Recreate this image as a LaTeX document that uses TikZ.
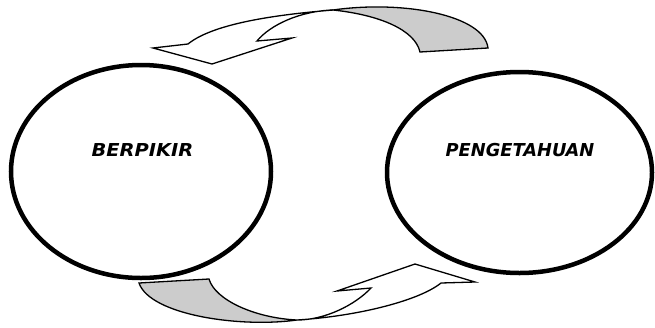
\documentclass[tikz,border=0pt]{standalone}
\usepackage{fontspec}
\newfontfamily\lblfont{DejaVu Sans}
\usetikzlibrary{shapes.geometric}
\tikzset{
  bubble/.style={ellipse, draw=black, line width=4.5pt, inner sep=0pt},
  lbl/.style={font=\lblfont\bfseries\itshape\fontsize{17.8}{20}\selectfont, inner sep=0pt},
  ribbon/.style={draw=black, line width=1.3pt, line join=miter},
  flap/.style={ribbon, fill=black!20},
  body/.style={ribbon, fill=white}
}
\begin{document}
\begin{tikzpicture}[x=1pt,y=-1pt]
\useasboundingbox (0,0) rectangle (655,327);
% circles
\node[bubble, minimum width=260pt, minimum height=213pt] (think) at (141,171.5) {};
\node[bubble, minimum width=265pt, minimum height=201pt] (know) at (519.5,172.5) {};
\node[lbl] (thinklbl) at (142.5,150) {\scalebox{1.09}[1]{BERPIKIR}};
\node[lbl] (knowlbl) at (520,150) {PENGETAHUAN};
% top curved arrow
\coordinate (tc) at (333,10);
\draw[flap] (tc) .. controls (403,0) and (484,15) .. (488,48) -- (420,52)
  .. controls (415,30) and (380,15) .. (tc) -- cycle;
\draw[body] (tc) .. controls (285,14) and (215,22) .. (188,44) -- (153,48) -- (212,64)
  -- (292,38) -- (257,41) .. controls (270,25) and (300,11) .. (tc) -- cycle;
% bottom curved arrow
\coordinate (bc) at (297,320);
\draw[flap] (139,283) -- (209,279) .. controls (215,300) and (255,318) .. (bc)
  .. controls (240,328) and (150,315) .. (139,283) -- cycle;
\draw[body] (bc) .. controls (360,316) and (420,300) .. (441,283) -- (475,282) -- (415,264)
  -- (337,291) -- (371,288) .. controls (355,305) and (325,320) .. (bc) -- cycle;
\end{tikzpicture}
\end{document}
